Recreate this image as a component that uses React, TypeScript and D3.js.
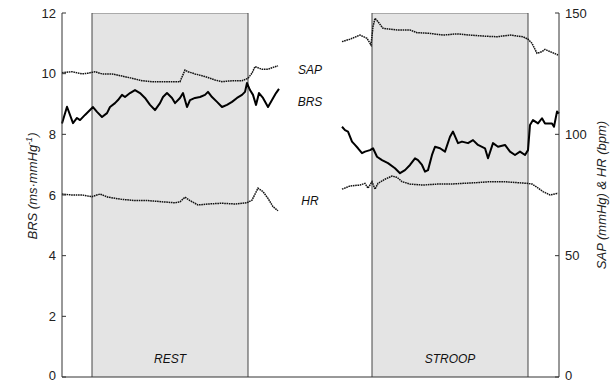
import React from "react";
import * as d3 from "d3";

// time in samples (0..497)
const brsRest: [number, number][] = [
  [0, 8.36], [5, 8.91], [11, 8.37], [15, 8.54], [18, 8.47], [23, 8.64], [28, 8.8], [31, 8.9],
  [35, 8.74], [40, 8.57], [45, 8.7], [48, 8.9], [53, 9.03], [56, 9.13], [60, 9.3], [63, 9.23],
  [68, 9.36], [73, 9.46], [78, 9.36], [83, 9.2], [88, 8.97], [93, 8.8], [98, 9.03], [101, 9.23],
  [105, 9.36], [110, 9.2], [113, 9.03], [118, 9.2], [121, 9.36], [125, 8.9], [128, 9.13], [133, 9.2],
  [138, 9.23], [143, 9.3], [146, 9.4], [150, 9.23], [155, 9.07], [160, 8.9], [165, 8.97], [170, 9.07],
  [175, 9.2], [180, 9.3], [183, 9.4], [185, 9.69], [188, 9.46], [191, 9.3], [194, 8.97], [197, 9.36],
  [201, 9.2], [206, 8.9], [210, 9.13], [214, 9.36], [217, 9.5],
];
const sapRest: [number, number][] = [
  [0, 125.4], [10, 125.8], [20, 124.9], [26, 125.2], [33, 125.8], [40, 124.9], [50, 124.9], [60, 124.0],
  [70, 123.1], [80, 122.1], [90, 121.7], [100, 121.7], [110, 121.7], [118, 121.7], [123, 126.5], [126, 125.8],
  [133, 124.9], [143, 123.8], [153, 122.4], [160, 121.7], [170, 122.1], [180, 122.1], [186, 123.1], [190, 125.2],
  [193, 127.9], [200, 126.8], [206, 126.8], [211, 127.6], [216, 128.2],
];
const hrRest: [number, number][] = [
  [0, 75.4], [10, 75.0], [20, 75.0], [30, 74.3], [38, 75.4], [46, 74.1], [60, 73.2], [73, 72.7],
  [86, 72.7], [100, 72.2], [113, 71.8], [118, 72.2], [123, 74.1], [128, 72.7], [136, 70.9], [146, 71.3],
  [160, 71.6], [173, 71.3], [185, 71.8], [190, 72.9], [196, 77.8], [201, 76.4], [206, 73.6], [211, 70.2],
  [216, 68.5],
];
const brsStroop: [number, number][] = [
  [280, 8.25], [283, 8.14], [286, 8.09], [290, 7.76], [293, 7.65], [296, 7.54], [300, 7.38], [303, 7.43],
  [308, 7.48], [311, 7.54], [315, 7.26], [320, 7.15], [326, 7.05], [333, 6.88], [338, 6.72], [343, 6.82],
  [348, 6.99], [353, 7.21], [356, 7.15], [360, 6.99], [363, 6.77], [366, 6.82], [370, 7.32], [373, 7.59],
  [378, 7.54], [383, 7.43], [388, 7.92], [391, 8.09], [396, 7.71], [400, 7.76], [406, 7.71], [411, 7.81],
  [416, 7.65], [423, 7.54], [426, 7.21], [431, 7.71], [436, 7.59], [443, 7.65], [448, 7.43], [453, 7.32],
  [458, 7.43], [463, 7.32], [466, 7.48], [468, 8.31], [471, 8.47], [476, 8.36], [480, 8.53], [483, 8.36],
  [490, 8.36], [492, 8.25], [495, 8.75], [497, 8.69],
];
const sapStroop: [number, number][] = [
  [280, 138.2], [288, 139.2], [298, 140.9], [305, 139.6], [309, 136.8], [311, 144.4], [313, 147.8], [316, 146.4],
  [321, 143.7], [335, 143.0], [348, 143.0], [355, 141.9], [368, 141.6], [381, 140.9], [395, 141.4], [408, 140.9],
  [421, 140.5], [435, 140.2], [448, 140.9], [461, 140.2], [466, 139.2], [470, 137.5], [475, 133.4], [480, 134.1],
  [483, 135.0], [488, 134.1], [496, 132.7],
];
const hrStroop: [number, number][] = [
  [280, 77.4], [288, 78.7], [298, 79.1], [303, 79.8], [306, 77.8], [310, 80.5], [313, 77.4], [316, 79.8],
  [323, 81.5], [330, 82.8], [335, 82.3], [340, 80.5], [348, 79.5], [361, 79.1], [375, 79.5], [388, 79.5],
  [401, 79.8], [415, 80.1], [428, 80.5], [441, 80.5], [455, 80.1], [465, 79.8], [470, 79.5], [475, 78.2],
  [481, 76.4], [488, 75.0], [496, 75.7],
];

const phases = [
  { name: "REST", start: 30, end: 186 },
  { name: "STROOP", start: 310, end: 466 },
];
const leftTicks = [0, 2, 4, 6, 8, 10, 12];
const rightTicks = [0, 50, 100, 150];
const seriesLabels = [
  { name: "SAP", t: 248, v: 126.5, axis: "right" },
  { name: "BRS", t: 248, v: 9.05, axis: "left" },
  { name: "HR", t: 248, v: 72.5, axis: "right" },
];

const W = 613;
const H = 383;
const left = 62;
const right = 559;
const top = 13;
const bottom = 377;
const font = "Arial, 'Liberation Sans', sans-serif";

export default function App() {
  const x = d3.scaleLinear().domain([0, 497]).range([left, right]);
  const yL = d3.scaleLinear().domain([0, 12]).range([bottom, top]);
  const yR = d3.scaleLinear().domain([0, 150]).range([bottom, top]);

  const lineL = d3.line<[number, number]>().x((d) => x(d[0])).y((d) => yL(d[1]));
  const lineR = d3.line<[number, number]>().x((d) => x(d[0])).y((d) => yR(d[1]));

  // keep the bottom "0" labels inside the picture
  const labelY = (py: number) => Math.min(py + 4.5, H - 3);

  return (
    <svg width={W} height={H} style={{ position: "absolute", left: 0, top: 0, background: "#fff" }} fontFamily={font}>
      {phases.map((p) => (
        <g key={p.name}>
          <rect x={x(p.start)} y={top} width={x(p.end) - x(p.start)} height={bottom - top} fill="#e4e4e4" />
          <line x1={x(p.start)} x2={x(p.end)} y1={top + 0.5} y2={top + 0.5} stroke="#aaa" />
          <line x1={x(p.start)} x2={x(p.start)} y1={top} y2={bottom} stroke="#444" />
          <line x1={x(p.end)} x2={x(p.end)} y1={top} y2={bottom} stroke="#444" />
          <text x={(x(p.start) + x(p.end)) / 2} y={363} textAnchor="middle" fontSize={12} fontStyle="italic" fill="#111">
            {p.name}
          </text>
        </g>
      ))}

      {[sapRest, sapStroop, hrRest, hrStroop].map((d, i) => (
        <path key={"r" + i} d={lineR(d) || ""} fill="none" stroke="#111" strokeWidth={1.5} strokeDasharray="1.6 0.7" />
      ))}
      {[brsRest, brsStroop].map((d, i) => (
        <path key={"l" + i} d={lineL(d) || ""} fill="none" stroke="#000" strokeWidth={2} strokeLinejoin="round" />
      ))}

      {seriesLabels.map((s) => (
        <text key={s.name} x={x(s.t)} y={(s.axis === "left" ? yL(s.v) : yR(s.v)) + 4} textAnchor="middle"
          fontSize={12} fontStyle="italic" fill="#111">
          {s.name}
        </text>
      ))}

      {/* axes */}
      <line x1={left} x2={left} y1={top} y2={bottom} stroke="#333" />
      <line x1={right} x2={right} y1={top} y2={bottom} stroke="#333" />
      <line x1={left} x2={right} y1={bottom} y2={bottom} stroke="#333" />
      {leftTicks.map((t) => (
        <g key={"lt" + t}>
          <line x1={left} x2={left + 4} y1={yL(t)} y2={yL(t)} stroke="#333" />
          <text x={left - 6} y={labelY(yL(t))} textAnchor="end" fontSize={13} fill="#222">{t}</text>
        </g>
      ))}
      {rightTicks.map((t) => (
        <g key={"rt" + t}>
          <line x1={right - 4} x2={right} y1={yR(t)} y2={yR(t)} stroke="#333" />
          <text x={right + 6} y={labelY(yR(t))} textAnchor="start" fontSize={13} fill="#222">{t}</text>
        </g>
      ))}
      <text transform="translate(37,186) rotate(-90)" textAnchor="middle" fontSize={13} fontStyle="italic" fill="#222">
        BRS (ms·mmHg<tspan dy={-5} fontSize={9}>-1</tspan><tspan dy={5}>)</tspan>
      </text>
      <text transform="translate(606,195) rotate(-90)" textAnchor="middle" fontSize={13} fontStyle="italic" fill="#222">
        SAP (mmHg) &amp; HR (bpm)
      </text>
    </svg>
  );
}
